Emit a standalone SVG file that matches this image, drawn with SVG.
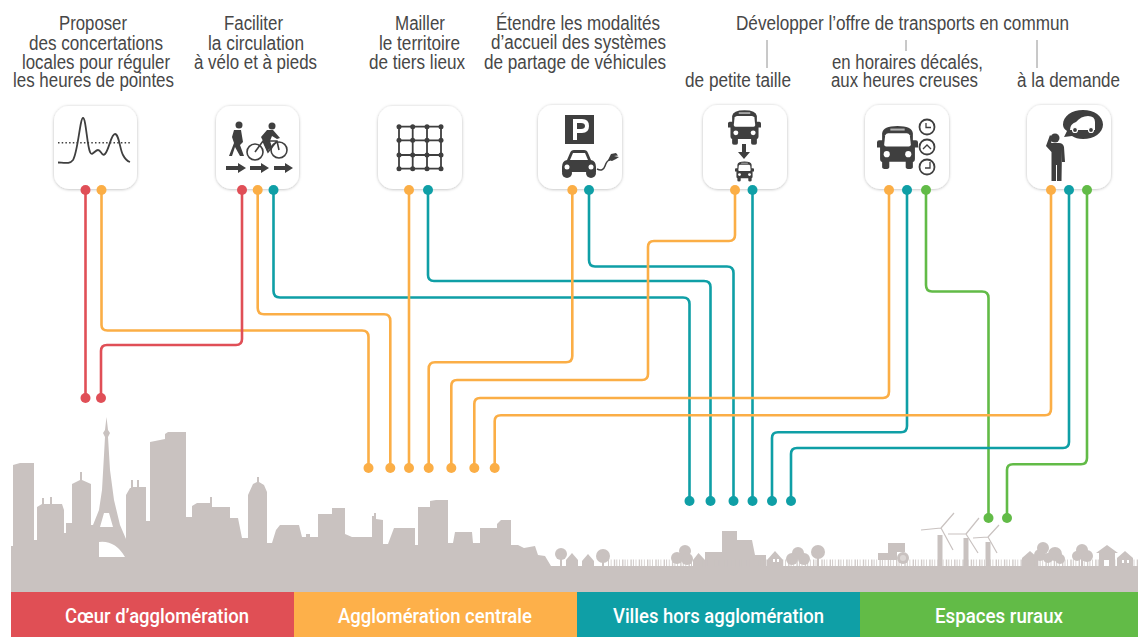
<svg xmlns="http://www.w3.org/2000/svg" xmlns:xlink="http://www.w3.org/1999/xlink" width="1138" height="637" viewBox="0 0 1138 637">
<style>
.t{font-family:"Liberation Sans",Arial,sans-serif;font-size:19.500px;fill:#474747}
.b{font-family:Roboto,"Liberation Sans",sans-serif;font-weight:500;font-size:21px;fill:#fff}
.card{fill:#fff;filter:url(#sh)}
.i{fill:#3f3f3f}
.il{fill:none;stroke:#3f3f3f}
.c{fill:none;stroke-width:2.600}
.red{stroke:#e04f57}.or{stroke:#fbae46}.te{stroke:#0f9fa6}.gr{stroke:#62bb47}
.dr{fill:#e04f57}.do{fill:#fbae46}.dt{fill:#0f9fa6}.dg{fill:#62bb47}
.tick{stroke:#777;stroke-width:.8}
.g{fill:#c9c2c0}
.gs{stroke:#c9c2c0;fill:none}
</style>
<defs>
<filter id="sh" x="-15%" y="-15%" width="130%" height="130%"><feDropShadow dx="0" dy="0.500" stdDeviation="1.500" flood-color="#000" flood-opacity=".28"/></filter>
<symbol id="bus" viewBox="0 0 40 42" overflow="visible">
<path class="i" d="M5 7Q6 0 20 0T35 7V14H38Q40 14 40 16V21H37V32Q37 35 35 35V40Q35 42 31.500 42T28 40V35H12V40Q12 42 8.500 42T5 40V35Q3 35 3 32V21H0V16Q0 14 2 14H5Z"/>
<path fill="#fff" d="M8 9Q9 7 11 7H29Q31 7 32 9L33 18Q33 20 31 20H9Q7 20 7 18Z"/>
<rect x="13" y="2.500" width="14" height="2" fill="#fff" opacity=".6"/>
<circle cx="9.500" cy="27.500" r="3" fill="#fff"/><circle cx="30.500" cy="27.500" r="3" fill="#fff"/>
</symbol>
</defs>
<rect width="1138" height="637" fill="#fff"/>

<g id="skyline">
<path class="g" fill-rule="evenodd" d="M11 592V546H13V465L20 463H34V540H37V507L42 504V498H44V504H50V497H52V504H62L64 510V533H66V523H72V484L80 480V472H82V480L91 484V525H93L99 510L102 490L104 455L105 437L103 433L105 430L106.500 417L108 430L110 433L108 437L110 470L114 500L120 525L126 539V495L130 488H131V480H133V487H137V480H139V487H146V521H150V442L165 439V434L168 432H186V517H192V506L197 503H210V497H212V507H230V518H238L242 538H248V495L253 484L257 482V477H259V482L264 485L267 492V543H272L276 530L280 525H299L302 537H306V534H310V537H318V514H332V508H345V534L352 537H372V516H374V513H376V519L383 520V544H388L394 528H415V545H418V507H430V501L436 500H448V543H453L455 532H472L473 543H480V528H497V524L501 520H511V545H518L524 548L535 546L538 555L545 556L551 566H1138V592ZM99 557V542Q115 540 125 557ZM100 527L104 513H109L113 527Z"/>
<g class="g">
<circle cx="561" cy="554" r="6"/><rect x="560" y="555" width="2" height="12"/>
<path d="M566 567V560L572 553L578 560V567Z"/>
<path d="M582 567V561L588 554L594 561V567Z"/>
<circle cx="603" cy="556" r="7"/><rect x="602" y="556" width="2" height="11"/>
<circle cx="685" cy="551" r="6"/><circle cx="677" cy="558" r="6"/><circle cx="687" cy="559" r="6"/>
<path d="M693 567V560L698.500 553L705 560V567Z"/>
<path d="M705 567V552H720H722V531H737V540H752L755 555H766V567Z"/>
<path d="M767 567V560L775 551L783 560V567Z"/>
<circle cx="798" cy="553" r="6"/><circle cx="792" cy="559" r="6"/><circle cx="804" cy="559" r="6"/>
<circle cx="818" cy="552" r="7"/><rect x="817" y="552" width="2" height="14"/>
<path d="M878 566V553H888V543H905V552H897V560H878Z"/>
<circle cx="903" cy="558" r="6"/>
<path d="M937.500 566V535H942.500V566Z"/>
<path d="M963.500 566V538H968.500V566Z"/>
<path d="M985.500 566V542H990.500V566Z"/>
<path d="M1022 567V558L1030 551L1038 558V567Z"/>
<circle cx="1043" cy="548" r="6"/><circle cx="1040" cy="555" r="6"/><circle cx="1055" cy="554" r="7"/><circle cx="1048" cy="558" r="5"/><circle cx="1060" cy="559" r="5"/>
<circle cx="1082" cy="550" r="6"/><circle cx="1077" cy="556" r="5"/><circle cx="1087" cy="556" r="6"/><rect x="1081" y="556" width="2" height="10"/>
<path d="M1096 553L1107 545L1118 553H1115V567H1099V553Z"/>
<path d="M1117 567V558L1125 551L1133 558V567Z"/>
</g>
<g class="gs" stroke-width="1.200">
<path d="M941 528L954 513M941 528L921 530M941 528L953 550"/>
<path d="M966 534L979 518M966 534L948 534M966 534L978 553"/>
<path d="M988 537L999 525M988 537L973 538M988 537L997 553"/>
</g>
<line x1="608" y1="563" x2="1138" y2="563" stroke="#c9c2c0" stroke-width="7" stroke-dasharray="1 1.700 .8 2.300 1.400 1.100" opacity=".85"/>
<path d="M1104 560H1109V566H1104ZM1122 560H1124V563H1122ZM1127 560H1129V563H1127ZM773 559H775V562H773ZM777 559H779V562H777Z" fill="#fff"/>
<circle cx="903" cy="558" r="3" fill="#dcd7d5"/>
</g>

<g id="connectors">
<path class="c red" d="M85.500 190V398"/>
<path class="c or" d="M101.500 190V325Q101.500 330.500 107.500 330.500H362Q368.500 330.500 368.500 337V468"/>
<path class="c red" d="M242 190V339Q242 345 236 345H107Q101 345 101 351V398"/>
<path class="c or" d="M257.700 190V308Q257.700 314.300 264 314.300H384Q390.300 314.300 390.300 321V468"/>
<path class="c te" d="M273.500 190V291Q273.500 297.500 280 297.500H683Q689.500 297.500 689.500 304V501"/>
<path class="c or" d="M409 190V468"/>
<path class="c te" d="M428 190V275Q428 281 434 281H704Q710.500 281 710.500 287V501"/>
<path class="c or" d="M572.300 190V356Q572.300 362.300 566 362.300H435Q428.700 362.300 428.700 369V468"/>
<path class="c te" d="M589 190V260Q589 266.500 595 266.500H727Q733.500 266.500 733.500 273V501"/>
<path class="c or" d="M735 190V235Q735 241 729 241H654Q648 241 648 247V374Q648 380 642 380H457Q451.300 380 451.300 386V468"/>
<path class="c te" d="M752.500 190V501"/>
<path class="c or" d="M889 190V391.500Q889 398 883 398H480Q474.300 398 474.300 404V468"/>
<path class="c te" d="M907 190V426Q907 432.300 901 432.300H778Q772 432.300 772 438V501"/>
<path class="c gr" d="M926 190V285Q926 291.500 932 291.500H982Q988.500 291.500 988.500 298V518"/>
<path class="c or" d="M1051 190V409Q1051 415.300 1045 415.300H501Q494.700 415.300 494.700 421V468"/>
<path class="c te" d="M1069 190V442Q1069 448 1063 448H797Q791 448 791 454V501"/>
<path class="c gr" d="M1087 190V458Q1087 464.300 1081 464.300H1013Q1007 464.300 1007 470V518"/>
</g>

<g id="node-1">
<text class="t" x="93" y="30" text-anchor="middle" textLength="68" lengthAdjust="spacingAndGlyphs">Proposer</text>
<text class="t" x="96" y="50" text-anchor="middle" textLength="134" lengthAdjust="spacingAndGlyphs">des concertations</text>
<text class="t" x="96" y="69" text-anchor="middle" textLength="148" lengthAdjust="spacingAndGlyphs">locales pour réguler</text>
<text class="t" x="93.500" y="87" text-anchor="middle" textLength="161" lengthAdjust="spacingAndGlyphs">les heures de pointes</text>
<rect class="card" x="54" y="106" width="83" height="83" rx="15"/>
<path class="il" stroke-width="1.500" stroke-dasharray="1.500 2.200" d="M58 142.700H131"/>
<path class="il" stroke-width="1.800" d="M58 162.500C66 163 70 164 73 160C78 152 80 118 83 118C86 118 87 146 90 152C92 157 95 150 98 150C101 150 102 157 105 154C109 150 111 134 115 134C119 134 120 150 123 155C125 159 127 161 130 162"/>
</g>

<g id="node-2">
<text class="t" x="253.500" y="30" text-anchor="middle" textLength="59" lengthAdjust="spacingAndGlyphs">Faciliter</text>
<text class="t" x="256" y="50" text-anchor="middle" textLength="96" lengthAdjust="spacingAndGlyphs">la circulation</text>
<text class="t" x="255.500" y="69" text-anchor="middle" textLength="123" lengthAdjust="spacingAndGlyphs">à vélo et à pieds</text>
<rect class="card" x="216" y="106" width="83" height="83" rx="15"/>
<circle class="i" cx="239" cy="125" r="3.500"/>
<path class="i" d="M234 130H241L243 142L240 145L244 156H240L235 147L232 156H229L234 143L232 137Z"/>
<circle class="i" cx="272" cy="126" r="3.500"/>
<path class="i" d="M261 137L267 130H273L280 138L277 139L272 136L270 141L272 147L267 151L263 141Z"/>
<g class="il" stroke-width="1.600"><circle cx="255" cy="152" r="8"/><circle cx="279" cy="150" r="8"/><path d="M255 152L263 141H277L279 150M263 141L268 152L277 141"/></g>
<path class="i" d="M226 166H238V163L246 168L238 173V170H226ZM250 166H261V163L269 168L261 173V170H250ZM274 166H285V163L293 168L285 173V170H274Z"/>
</g>

<g id="node-3">
<text class="t" x="420" y="30" text-anchor="middle" textLength="50" lengthAdjust="spacingAndGlyphs">Mailler</text>
<text class="t" x="419.500" y="50" text-anchor="middle" textLength="81" lengthAdjust="spacingAndGlyphs">le territoire</text>
<text class="t" x="417" y="69" text-anchor="middle" textLength="96" lengthAdjust="spacingAndGlyphs">de tiers lieux</text>
<rect class="card" x="378" y="106" width="84" height="83" rx="15"/>
<path class="il" stroke-width="1.800" d="M399 126.700H441M399 140.300H441M399 155H441M399 168.700H441M399 126.700V168.700M412.700 126.700V168.700M427 126.700V168.700M441 126.700V168.700"/>
<g class="i"><circle cx="399" cy="126.700" r="2.500"/><circle cx="412.700" cy="126.700" r="2.500"/><circle cx="427" cy="126.700" r="2.500"/><circle cx="441" cy="126.700" r="2.500"/><circle cx="399" cy="140.300" r="2.500"/><circle cx="412.700" cy="140.300" r="2.500"/><circle cx="427" cy="140.300" r="2.500"/><circle cx="441" cy="140.300" r="2.500"/><circle cx="399" cy="155" r="2.500"/><circle cx="412.700" cy="155" r="2.500"/><circle cx="427" cy="155" r="2.500"/><circle cx="441" cy="155" r="2.500"/><circle cx="399" cy="168.700" r="2.500"/><circle cx="412.700" cy="168.700" r="2.500"/><circle cx="427" cy="168.700" r="2.500"/><circle cx="441" cy="168.700" r="2.500"/></g>
</g>

<g id="node-4">
<text class="t" x="578" y="30" text-anchor="middle" textLength="164" lengthAdjust="spacingAndGlyphs">Étendre les modalités</text>
<text class="t" x="578.500" y="49" text-anchor="middle" textLength="175" lengthAdjust="spacingAndGlyphs">d’accueil des systèmes</text>
<text class="t" x="575" y="69" text-anchor="middle" textLength="182" lengthAdjust="spacingAndGlyphs">de partage de véhicules</text>
<rect class="card" x="538" y="105" width="84" height="84" rx="15"/>
<rect class="i" x="565" y="115" width="29" height="29"/>
<path fill="#fff" d="M573 119H582Q589 119 589 126T582 133H577V140H573ZM577 123V129H581Q585 129 585 126T581 123Z"/>
<path class="i" d="M562 167Q562 161 567 160L570 153Q571 150 574 150H584Q587 150 588 153L591 160Q596 161 596 167V172H562Z"/>
<circle class="i" cx="567" cy="173" r="5"/><circle class="i" cx="591" cy="173" r="5"/>
<path fill="#fff" d="M573 153H585L588 160H570Z"/>
<circle cx="567" cy="167" r="2.500" fill="#fff"/><circle cx="591" cy="167" r="2.500" fill="#fff"/>
<path class="il" stroke-width="1.500" d="M597 169Q603 172 605 166T610 160"/>
<path class="i" d="M608 160L611 154L616 153L618 155.500L614 156L619 157L616 159L612 161Z"/>
</g>

<g id="node-5">
<text class="t" x="738" y="87" text-anchor="middle" textLength="106" lengthAdjust="spacingAndGlyphs">de petite taille</text>
<rect class="card" x="703" y="105" width="84" height="84" rx="15"/>
<use xlink:href="#bus" href="#bus" x="728" y="110" width="33" height="35"/>
<path class="i" d="M742 144H746V152H750L744 159L738 152H742Z"/>
<use xlink:href="#bus" href="#bus" x="735" y="161" width="19" height="21"/>
</g>

<g id="node-6">
<text class="t" x="907.500" y="69" text-anchor="middle" textLength="151" lengthAdjust="spacingAndGlyphs">en horaires décalés,</text>
<text class="t" x="904.500" y="87" text-anchor="middle" textLength="147" lengthAdjust="spacingAndGlyphs">aux heures creuses</text>
<rect class="card" x="865" y="105" width="84" height="84" rx="15"/>
<use xlink:href="#bus" href="#bus" x="877" y="125" width="41" height="45"/>
<g fill="#fff" stroke="#3f3f3f" stroke-width="1.800"><circle cx="927" cy="127" r="7.500"/><circle cx="927" cy="147" r="7.500"/><circle cx="927" cy="167" r="7.500"/></g>
<path class="il" stroke-width="1.300" d="M926 123V127.500H931M923 149L927 145L931 149M930 162V168H925"/>
</g>

<g id="node-7">
<text class="t" x="1068.500" y="87" text-anchor="middle" textLength="103" lengthAdjust="spacingAndGlyphs">à la demande</text>
<rect class="card" x="1027" y="105" width="84" height="84" rx="15"/>
<circle class="i" cx="1055" cy="138" r="4.500"/>
<path class="i" d="M1050 135L1053 138L1051 143H1059Q1063 143 1064 147L1065 162H1062V150L1061.500 181H1057V165H1056V181H1051.500V152L1046 146Z"/>
<path class="i" d="M1083 110C1094 110 1103 116 1103 124.500S1094 139 1083 139C1078 139 1075 138 1072 136L1064 137L1067 131C1064 129 1063 127 1063 124.500C1063 116 1072 110 1083 110Z"/>
<path fill="#fff" d="M1070 130Q1070 124 1076 122Q1081 116 1088 116Q1095 116 1095 122V130Z"/>
<circle class="i" cx="1075" cy="130" r="2.500" stroke="#fff" stroke-width="1.200"/><circle class="i" cx="1091" cy="130" r="2.500" stroke="#fff" stroke-width="1.200"/>
</g>

<g id="transport-header">
<text class="t" x="902.500" y="30" text-anchor="middle" textLength="333" lengthAdjust="spacingAndGlyphs">Développer l’offre de transports en commun</text>
<line class="tick" x1="767" y1="40" x2="767" y2="68"/>
<line class="tick" x1="906" y1="40" x2="906" y2="51"/>
<line class="tick" x1="1037" y1="40" x2="1037" y2="68"/>
</g>

<g id="dots">
<g class="dr"><circle cx="85.500" cy="190" r="5"/><circle cx="242" cy="190" r="5"/><circle cx="85.500" cy="398" r="5"/><circle cx="101" cy="398" r="5"/></g>
<g class="do"><circle cx="101.500" cy="190" r="5"/><circle cx="257.700" cy="190" r="5"/><circle cx="409" cy="190" r="5"/><circle cx="572.300" cy="190" r="5"/><circle cx="735" cy="190" r="5"/><circle cx="889" cy="190" r="5"/><circle cx="1051" cy="190" r="5"/><circle cx="368.500" cy="468" r="5"/><circle cx="390.300" cy="468" r="5"/><circle cx="409" cy="468" r="5"/><circle cx="428.700" cy="468" r="5"/><circle cx="451.300" cy="468" r="5"/><circle cx="474.300" cy="468" r="5"/><circle cx="494.700" cy="468" r="5"/></g>
<g class="dt"><circle cx="273.500" cy="190" r="5"/><circle cx="428" cy="190" r="5"/><circle cx="589" cy="190" r="5"/><circle cx="752.500" cy="190" r="5"/><circle cx="907" cy="190" r="5"/><circle cx="1069" cy="190" r="5"/><circle cx="689.500" cy="501" r="5"/><circle cx="710.500" cy="501" r="5"/><circle cx="733.500" cy="501" r="5"/><circle cx="752.500" cy="501" r="5"/><circle cx="772" cy="501" r="5"/><circle cx="791" cy="501" r="5"/></g>
<g class="dg"><circle cx="926" cy="190" r="5"/><circle cx="1087" cy="190" r="5"/><circle cx="988.500" cy="518" r="5"/><circle cx="1007" cy="518" r="5"/></g>
</g>

<g id="legend">
<rect x="11" y="592" width="283" height="45" fill="#e04f55"/>
<rect x="294" y="592" width="283" height="45" fill="#fdb04a"/>
<rect x="577" y="592" width="283" height="45" fill="#0f9fa6"/>
<rect x="860" y="592" width="278" height="45" fill="#62bb47"/>
<text class="b" x="157" y="623" text-anchor="middle" textLength="184" lengthAdjust="spacingAndGlyphs">Cœur d’agglomération</text>
<text class="b" x="435" y="623" text-anchor="middle" textLength="194" lengthAdjust="spacingAndGlyphs">Agglomération centrale</text>
<text class="b" x="718.500" y="623" text-anchor="middle" textLength="211" lengthAdjust="spacingAndGlyphs">Villes hors agglomération</text>
<text class="b" x="999" y="623" text-anchor="middle" textLength="128" lengthAdjust="spacingAndGlyphs">Espaces ruraux</text>
</g>
</svg>
